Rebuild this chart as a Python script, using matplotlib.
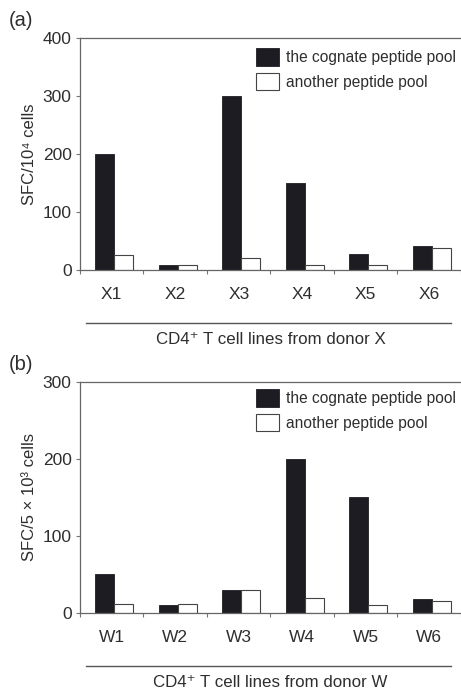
import matplotlib.pyplot as plt
import numpy as np

# ELISPOT responses of CD4+ T cell lines
x_lines = ['X1', 'X2', 'X3', 'X4', 'X5', 'X6']
x_cognate = [200, 8, 300, 150, 28, 42]
x_other = [25, 8, 20, 8, 8, 38]

w_lines = ['W1', 'W2', 'W3', 'W4', 'W5', 'W6']
w_cognate = [50, 10, 30, 200, 150, 18]
w_other = [12, 12, 30, 20, 10, 16]

txt = '#2e2e2e'
plt.rcParams['font.family'] = ['Liberation Sans', 'DejaVu Sans']


def panel(fig, rect, names, cog, oth, ymax, ystep, ylabel, xlabel, tag, legy):
    ax = fig.add_axes(rect)
    n = len(names)
    pos = np.arange(n) + 0.5
    w = 0.3
    ax.bar(pos - w / 2 + 0.04, cog, w, color='#1c1c22', edgecolor='#1c1c22',
           lw=0.6, label='the cognate peptide pool')
    ax.bar(pos + w / 2 + 0.04, oth, w, color='white', edgecolor='#444444',
           lw=0.8, label='another peptide pool')
    ax.set_xlim(0, n)
    ax.set_ylim(0, ymax)
    ax.set_yticks(np.arange(0, ymax + 1, ystep))
    ax.set_xticks(np.arange(n + 1))
    ax.set_xticklabels([])
    ax.set_xticks(pos, minor=True)
    ax.set_xticklabels(names, minor=True)
    ax.tick_params(axis='x', which='minor', length=0, pad=12,
                   labelsize=12.5, labelcolor=txt)
    ax.tick_params(axis='x', which='major', length=3, direction='out',
                   color='#777777', width=0.8)
    ax.tick_params(axis='y', length=3, color='#777777', width=0.8,
                   labelsize=12.5, labelcolor=txt, pad=3)
    ax.spines['right'].set_visible(False)
    for s in ('left', 'top', 'bottom'):
        ax.spines[s].set_color('#666666')
        ax.spines[s].set_linewidth(0.9)
    ax.set_ylabel(ylabel, fontsize=12, color=txt, labelpad=4)
    ax.legend(loc='upper left', bbox_to_anchor=(0.462, legy), frameon=False,
              fontsize=11.2, labelcolor=txt, handlelength=1.45,
              handleheight=1.35, handletextpad=0.45, labelspacing=0.45,
              borderaxespad=0, borderpad=0)
    # group line and axis title under the tick labels
    ax.plot([0.1, 5.85], [-0.23, -0.23], transform=ax.get_xaxis_transform(),
            color='#555555', lw=1.0, clip_on=False)
    ax.text(0.5, -0.3, xlabel, transform=ax.transAxes, ha='center',
            va='center', fontsize=12.2, color=txt)
    fig.text(0.018, rect[1] + rect[3] + 0.026, tag, fontsize=14.5, color=txt,
             va='center')
    return ax


fig = plt.figure(figsize=(4.61, 6.91), dpi=100)
panel(fig, [0.1735, 0.6093, 0.8265, 0.3357], x_lines, x_cognate, x_other,
      400, 100, 'SFC/10⁴ cells', 'CD4⁺ T cell lines from donor X', '(a)',
      0.955)
panel(fig, [0.1735, 0.1129, 0.8265, 0.3343], w_lines, w_cognate, w_other,
      300, 100, 'SFC/5 × 10³ cells', 'CD4⁺ T cell lines from donor W', '(b)',
      0.968)
fig.savefig('out.png', dpi=100)
